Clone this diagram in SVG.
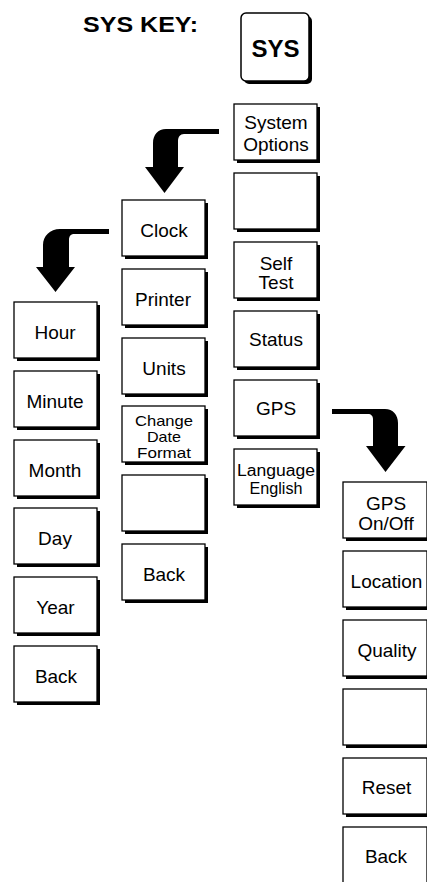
<svg xmlns="http://www.w3.org/2000/svg" width="427" height="882" viewBox="0 0 427 882">
<style>
.sh{fill:#000}
.bx{fill:#fff;stroke:#000;stroke-width:1.3}
.t{font-family:"Liberation Sans",Arial,sans-serif;font-size:19px;text-anchor:middle;fill:#000}
.ts{font-size:14.5px}
.tl{font-size:16px}
.b{font-weight:bold}
.arr{fill:#000}
</style>
<rect width="427" height="882" fill="#fff"/>
<text class="t b" x="83" y="32" style="font-size:22px;text-anchor:start" textLength="115" lengthAdjust="spacingAndGlyphs">SYS KEY:</text>
<g id="sys-key">
<rect class="sh" x="244" y="16" width="68" height="68" rx="5"/>
<rect class="bx" x="241" y="13" width="68" height="68" rx="5" style="stroke-width:1.5"/>
<text class="t b" x="275.5" y="57" style="font-size:24px">SYS</text>
</g>
<g id="connectors">
<path class="arr" d="M219,129 L166,129 C158,129 153,135 153,143 L153,167 L145,167 L164.5,193 L184,167 L178,167 L178,141 C178,137 180,134 184,134 L219,134 Z"/>
<path class="arr" d="M109,229 L60,229 C50,229 43,236 43,245 L43,267 L36,267 L55.5,292 L75,267 L69,267 L69,240 C69,236 71,234 74,234 L109,234 Z"/>
<path class="arr" d="M332,409 L385,409 C393,409 398,415 398,423 L398,446 L405.5,446 L385.5,472 L366,446 L373,446 L373,419 C373,416 371,414 368,414 L332,414 Z"/>
</g>
<!-- Column C -->
<g id="btn-system-options"><rect class="sh" x="237" y="107" width="83" height="56"/><rect class="bx" x="234" y="104" width="83" height="56"/><text class="t" x="276" y="129">System</text><text class="t" x="276" y="151">Options</text></g>
<g id="btn-c-blank"><rect class="sh" x="237" y="176" width="83" height="56"/><rect class="bx" x="234" y="173" width="83" height="56"/></g>
<g id="btn-self-test"><rect class="sh" x="237" y="245" width="83" height="56"/><rect class="bx" x="234" y="242" width="83" height="56"/><text class="t" x="276" y="270">Self</text><text class="t" x="276" y="289">Test</text></g>
<g id="btn-status"><rect class="sh" x="237" y="314" width="83" height="56"/><rect class="bx" x="234" y="311" width="83" height="56"/><text class="t" x="276" y="346">Status</text></g>
<g id="btn-gps"><rect class="sh" x="237" y="383" width="83" height="56"/><rect class="bx" x="234" y="380" width="83" height="56"/><text class="t" x="276" y="415">GPS</text></g>
<g id="btn-language"><rect class="sh" x="237" y="452" width="83" height="56"/><rect class="bx" x="234" y="449" width="83" height="56"/><text class="t tl" x="276" y="475.5" textLength="78" lengthAdjust="spacingAndGlyphs">Language</text><text class="t tl" x="276" y="494" textLength="53" lengthAdjust="spacingAndGlyphs">English</text></g>
<!-- Column B -->
<g id="btn-clock"><rect class="sh" x="125" y="203" width="83" height="56"/><rect class="bx" x="122" y="200" width="83" height="56"/><text class="t" x="164" y="236.5">Clock</text></g>
<g id="btn-printer"><rect class="sh" x="125" y="272" width="83" height="56"/><rect class="bx" x="122" y="269" width="83" height="56"/><text class="t" x="163" y="305.5">Printer</text></g>
<g id="btn-units"><rect class="sh" x="125" y="341" width="83" height="56"/><rect class="bx" x="122" y="338" width="83" height="56"/><text class="t" x="164" y="374.5">Units</text></g>
<g id="btn-change-date"><rect class="sh" x="125" y="409" width="83" height="56"/><rect class="bx" x="122" y="406" width="83" height="56"/><text class="t ts" x="164" y="425.5" textLength="58" lengthAdjust="spacingAndGlyphs">Change</text><text class="t ts" x="164" y="442" textLength="34" lengthAdjust="spacingAndGlyphs">Date</text><text class="t ts" x="164" y="458" textLength="54" lengthAdjust="spacingAndGlyphs">Format</text></g>
<g id="btn-b-blank"><rect class="sh" x="125" y="478" width="83" height="56"/><rect class="bx" x="122" y="475" width="83" height="56"/></g>
<g id="btn-b-back"><rect class="sh" x="125" y="547" width="83" height="56"/><rect class="bx" x="122" y="544" width="83" height="56"/><text class="t" x="164" y="580.5">Back</text></g>
<!-- Column A -->
<g id="btn-hour"><rect class="sh" x="17" y="305" width="83" height="56"/><rect class="bx" x="14" y="302" width="83" height="56"/><text class="t" x="55" y="338.5">Hour</text></g>
<g id="btn-minute"><rect class="sh" x="17" y="374" width="83" height="56"/><rect class="bx" x="14" y="371" width="83" height="56"/><text class="t" x="55" y="407.5">Minute</text></g>
<g id="btn-month"><rect class="sh" x="17" y="443" width="83" height="56"/><rect class="bx" x="14" y="440" width="83" height="56"/><text class="t" x="55" y="476.5">Month</text></g>
<g id="btn-day"><rect class="sh" x="17" y="511" width="83" height="56"/><rect class="bx" x="14" y="508" width="83" height="56"/><text class="t" x="55" y="544.5">Day</text></g>
<g id="btn-year"><rect class="sh" x="17" y="580" width="83" height="56"/><rect class="bx" x="14" y="577" width="83" height="56"/><text class="t" x="55.5" y="613.5">Year</text></g>
<g id="btn-a-back"><rect class="sh" x="17" y="649" width="83" height="56"/><rect class="bx" x="14" y="646" width="83" height="56"/><text class="t" x="56" y="682.5">Back</text></g>
<!-- Column D -->
<g id="btn-gps-onoff"><rect class="sh" x="346" y="485" width="84" height="56"/><rect class="bx" x="343" y="482" width="84" height="56"/><text class="t" x="386" y="510">GPS</text><text class="t" x="386" y="530">On/Off</text></g>
<g id="btn-location"><rect class="sh" x="346" y="554" width="84" height="56"/><rect class="bx" x="343" y="551" width="84" height="56"/><text class="t" x="386.5" y="588">Location</text></g>
<g id="btn-quality"><rect class="sh" x="346" y="623" width="84" height="56"/><rect class="bx" x="343" y="620" width="84" height="56"/><text class="t" x="387" y="656.5">Quality</text></g>
<g id="btn-d-blank"><rect class="sh" x="346" y="692" width="84" height="56"/><rect class="bx" x="343" y="689" width="84" height="56"/></g>
<g id="btn-reset"><rect class="sh" x="346" y="761" width="84" height="56"/><rect class="bx" x="343" y="758" width="84" height="56"/><text class="t" x="386.5" y="794">Reset</text></g>
<g id="btn-d-back"><rect class="sh" x="346" y="830" width="84" height="56"/><rect class="bx" x="343" y="827" width="84" height="56"/><text class="t" x="386" y="863">Back</text></g>
</svg>
